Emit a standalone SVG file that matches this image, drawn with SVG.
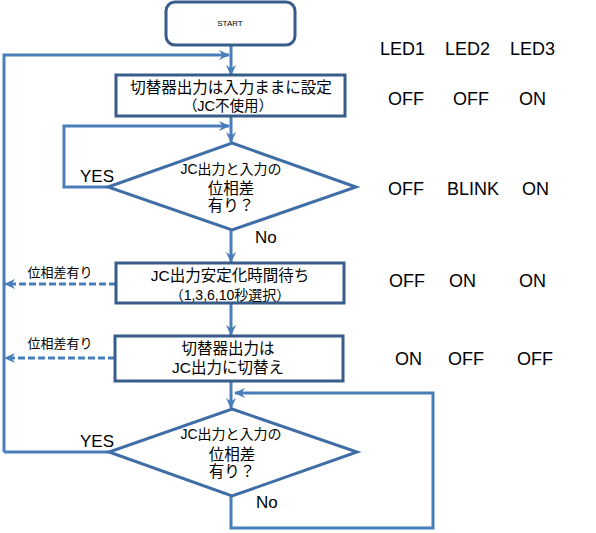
<svg xmlns="http://www.w3.org/2000/svg" width="596" height="533" viewBox="0 0 596 533">
<defs>
<marker id="arr" markerUnits="userSpaceOnUse" markerWidth="12" markerHeight="12" refX="10" refY="6" orient="auto" viewBox="0 0 12 12">
<path d="M0,1 L11,6 L0,11 L3.5,6 z" fill="#4A7EBB"/>
</marker>
<style>
.box{fill:#fff;stroke:#385D8A;stroke-width:3}
.dia{fill:#fff;stroke:#3F6DA6;stroke-width:3}
.ln{fill:none;stroke:#4A7EBB;stroke-width:3}
.ar{marker-end:url(#arr)}
.dash{stroke-dasharray:7 3}
.t{font-family:"Liberation Sans","Noto Sans CJK JP",sans-serif;fill:#000;text-anchor:middle}
.j{font-size:15.5px}
.s{font-size:13px}
.led{font-family:"Liberation Sans",sans-serif;font-size:18px;fill:#000}
.yn{font-family:"Liberation Sans",sans-serif;font-size:17px;fill:#000}
</style>
</defs>
<g id="connectors">
<path class="ln ar" d="M231,45 V75"/>
<path class="ln ar" d="M4,452 V55 H229"/>
<path class="ln ar" d="M231,116 V142"/>
<path class="ln ar" d="M108,187 H64 V126 H229"/>
<path class="ln ar" d="M231,230 V262"/>
<path class="ln ar dash" d="M116,284 H5"/>
<path class="ln ar" d="M231,303 V335"/>
<path class="ln ar dash" d="M115,358 H5"/>
<path class="ln ar" d="M231,381 V408"/>
<path class="ln" d="M109,452 H4"/>
<path class="ln ar" d="M231,496 V528 H433 V393 H235"/>
</g>
<g id="start">
<rect class="box" x="166" y="2" width="129" height="43" rx="9"/>
<text class="t" x="230" y="26" style="font-size:8px">START</text>
</g>
<g id="box1">
<rect class="box" x="116" y="75" width="229" height="41"/>
<text class="t j" x="231" y="93">切替器出力は入力ままに設定</text>
<text class="t" x="228" y="111" style="font-size:14.5px">（JC不使用）</text>
</g>
<g id="dec1">
<polygon class="dia" points="232,143 356,187 232,230 108,187"/>
<text class="t" x="231" y="174" style="font-size:14px">JC出力と入力の</text>
<text class="t j" x="231" y="194">位相差</text>
<text class="t j" x="231" y="211">有り？</text>
<text class="yn" x="80" y="182">YES</text>
<text class="yn" x="255" y="243">No</text>
</g>
<g id="box2">
<rect class="box" x="116" y="263" width="228" height="40"/>
<text class="t j" x="230" y="281">JC出力安定化時間待ち</text>
<text class="t" x="230" y="299.5" style="font-size:14px">（1,3,6,10秒選択）</text>
<text class="t s" x="60" y="277">位相差有り</text>
</g>
<g id="box3">
<rect class="box" x="115" y="336" width="228" height="45"/>
<text class="t j" x="228" y="354">切替器出力は</text>
<text class="t j" x="228" y="373">JC出力に切替え</text>
<text class="t s" x="60" y="348">位相差有り</text>
</g>
<g id="dec2">
<polygon class="dia" points="232,409 357,452 232,496 109,452"/>
<text class="t" x="231" y="439" style="font-size:14px">JC出力と入力の</text>
<text class="t j" x="232" y="460">位相差</text>
<text class="t j" x="232" y="477">有り？</text>
<text class="yn" x="80" y="447">YES</text>
<text class="yn" x="256" y="508">No</text>
</g>
<g id="leds">
<text class="led" x="380" y="55">LED1</text>
<text class="led" x="445" y="55">LED2</text>
<text class="led" x="510" y="55">LED3</text>
<text class="led" x="388" y="105">OFF</text>
<text class="led" x="453" y="105">OFF</text>
<text class="led" x="519" y="105">ON</text>
<text class="led" x="388" y="195">OFF</text>
<text class="led" x="447" y="195">BLINK</text>
<text class="led" x="522" y="195">ON</text>
<text class="led" x="389" y="287">OFF</text>
<text class="led" x="449" y="287">ON</text>
<text class="led" x="519" y="287">ON</text>
<text class="led" x="395" y="365">ON</text>
<text class="led" x="448" y="365">OFF</text>
<text class="led" x="517" y="365">OFF</text>
</g>
</svg>
